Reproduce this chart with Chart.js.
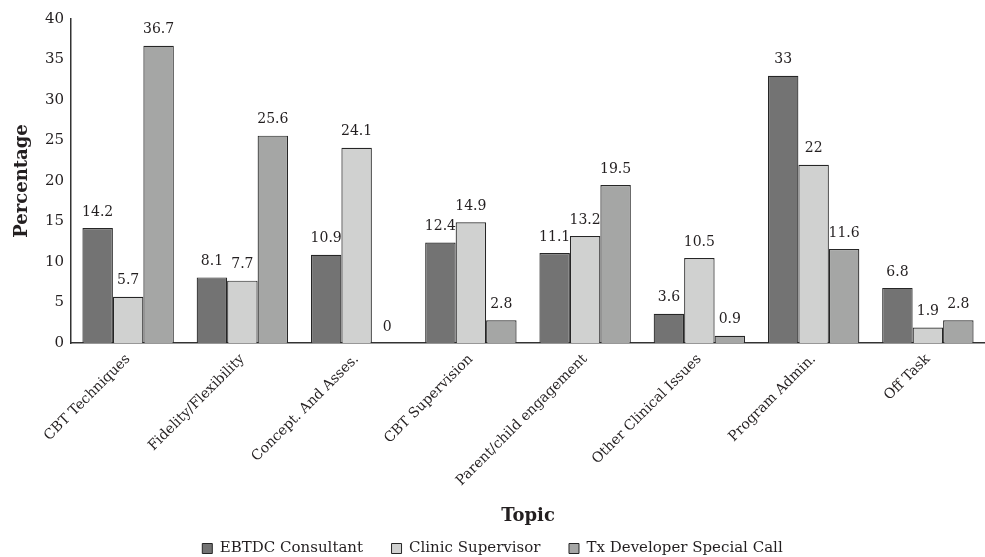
<!DOCTYPE html>
<html>
<head>
<meta charset="utf-8">
<script src="https://cdn.jsdelivr.net/npm/chart.js@4.4.1/dist/chart.umd.min.js"></script>
<style>
  html, body { margin: 0; padding: 0; background: #fff; }
  #wrap { width: 985px; height: 557px; }
</style>
</head>
<body>
<div id="wrap"><canvas id="chart" width="985" height="557"></canvas></div>
<script>
// Topic categories and the share of time (%) spent on each by source
const topics = [
  'CBT Techniques', 'Fidelity/Flexibility', 'Concept. And Asses.', 'CBT Supervision',
  'Parent/child engagement', 'Other Clinical Issues', 'Program Admin.', 'Off Task'
];
const ebtdcConsultant = [14.2, 8.1, 10.9, 12.4, 11.1, 3.6, 33, 6.8];
const clinicSupervisor = [5.7, 7.7, 24.1, 14.9, 13.2, 10.5, 22, 1.9];
const txDeveloperCall = [36.7, 25.6, 0, 2.8, 19.5, 0.9, 11.6, 2.8];
const yTicks = [0, 5, 10, 15, 20, 25, 30, 35, 40];

const FONT = '"DejaVu Serif", "Liberation Serif", serif';
const INK = '#231f20';

// Writes each bar's value just above its top
const valueLabels = {
  id: 'valueLabels',
  afterDatasetsDraw(chart) {
    const ctx = chart.ctx;
    ctx.save();
    ctx.font = '14px ' + FONT;
    ctx.fillStyle = INK;
    ctx.textAlign = 'center';
    ctx.textBaseline = 'bottom';
    chart.data.datasets.forEach((ds, i) => {
      chart.getDatasetMeta(i).data.forEach((bar, j) => {
        ctx.fillText(String(ds.data[j]), bar.x, bar.y - 9);
      });
    });
    ctx.restore();
  }
};

const defaultLegendLabels = Chart.defaults.plugins.legend.labels.generateLabels;

new Chart(document.getElementById('chart'), {
  type: 'bar',
  data: {
    labels: topics,
    datasets: [
      { label: 'EBTDC Consultant', data: ebtdcConsultant, backgroundColor: '#737373' },
      { label: 'Clinic Supervisor', data: clinicSupervisor, backgroundColor: '#d0d1d0' },
      { label: 'Tx Developer Special Call', data: txDeveloperCall, backgroundColor: '#a5a6a5' }
    ].map(d => Object.assign(d, { borderColor: '#262626', borderWidth: 1.2 }))
  },
  options: {
    responsive: false,
    animation: false,
    devicePixelRatio: 1,
    layout: { padding: { top: 19, right: 0, left: 0, bottom: -9 } },
    datasets: { bar: { categoryPercentage: 0.8, barPercentage: 1.0 } },
    plugins: {
      legend: {
        position: 'bottom',
        labels: {
          font: { family: FONT, size: 15 },
          color: INK,
          boxWidth: 10,
          boxHeight: 10,
          padding: 6,
          // trailing spaces widen the gap between legend entries
          generateLabels(chart) {
            return defaultLegendLabels(chart).map((item, i, all) => {
              item.text = i < all.length - 1 ? item.text + '\u2002\u2002\u2002' : item.text;
              item.lineWidth = 1;
              item.strokeStyle = '#262626';
              return item;
            });
          }
        }
      },
      tooltip: { enabled: false }
    },
    scales: {
      x: {
        afterFit(scale) { scale.height = 192; },
        grid: { display: false, drawTicks: false },
        border: { display: true, color: '#333333', width: 1.5 },
        ticks: {
          font: { family: FONT, size: 14 },
          color: INK,
          minRotation: 45,
          maxRotation: 45,
          padding: 8
        },
        title: {
          display: true,
          text: 'Topic',
          font: { family: FONT, size: 18, weight: 'bold' },
          color: INK,
          padding: { top: 8, bottom: 8 }
        }
      },
      y: {
        min: 0,
        max: 40,
        afterBuildTicks(scale) { scale.ticks = yTicks.map(v => ({ value: v })); },
        afterFit(scale) { scale.width = 71; },
        grid: { display: false, drawTicks: false },
        border: { display: true, color: '#333333', width: 1.5 },
        ticks: {
          font: { family: FONT, size: 15 },
          color: INK,
          padding: 7
        },
        title: {
          display: true,
          text: 'Percentage',
          font: { family: FONT, size: 18, weight: 'bold' },
          color: INK,
          padding: { top: 12, bottom: 4 }
        }
      }
    }
  },
  plugins: [valueLabels]
});
</script>
</body>
</html>
